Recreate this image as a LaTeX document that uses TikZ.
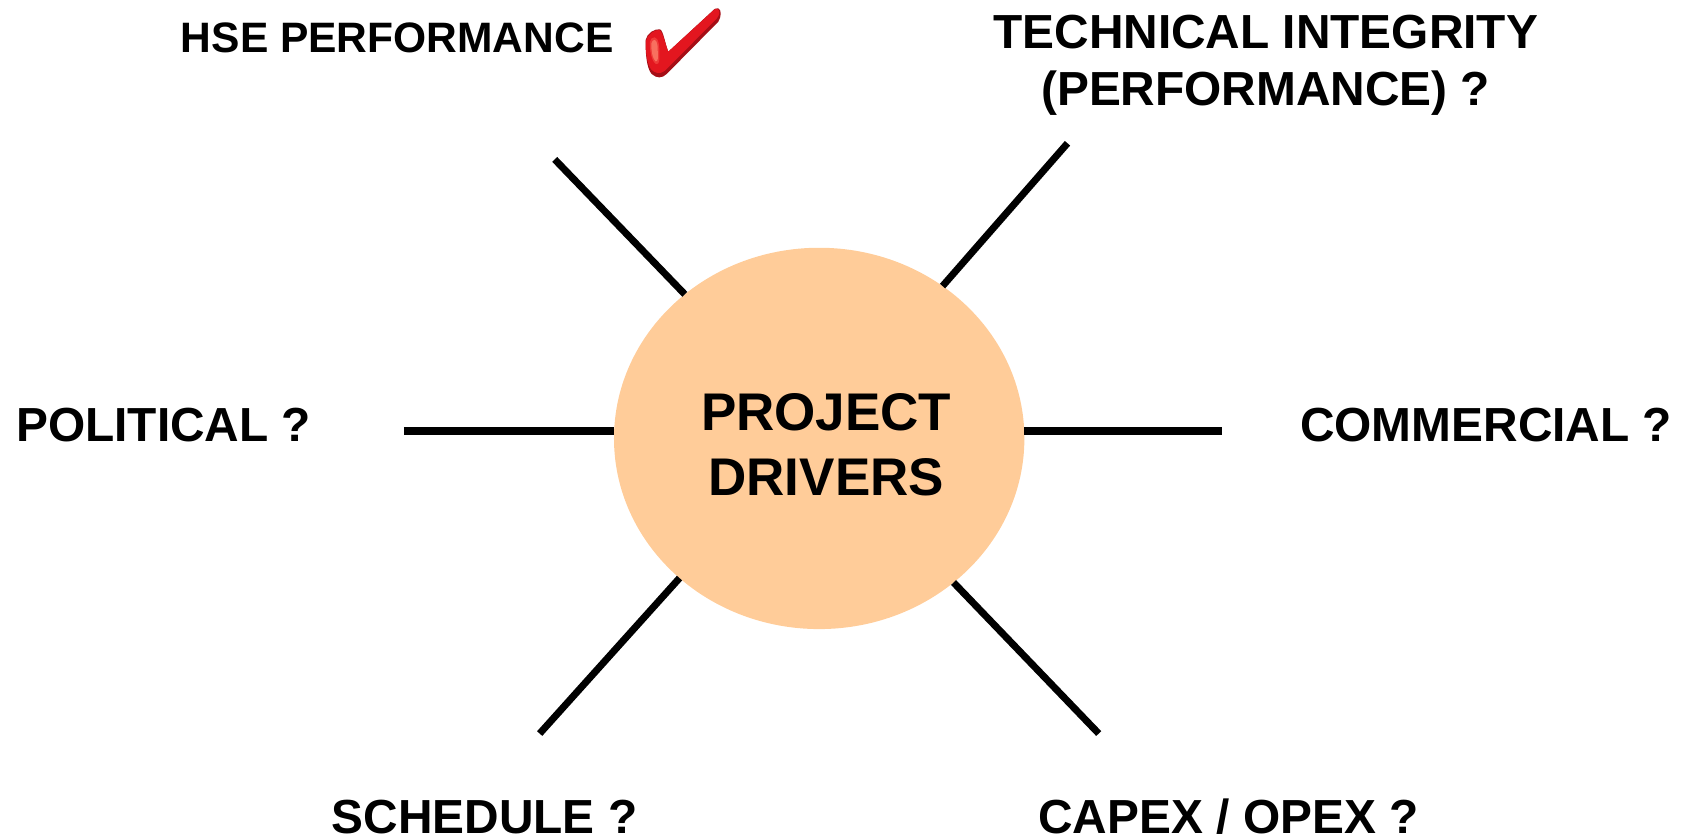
\documentclass[tikz,border=0pt]{standalone}
\usepackage{fontspec}
\setmainfont{Liberation Sans}
\usetikzlibrary{shapes.geometric}
\definecolor{hubfill}{HTML}{FFCC99}
\definecolor{tickred}{HTML}{E3161F}
\definecolor{tickdark}{HTML}{A50E16}
\definecolor{tickhi}{HTML}{F8705F}
\definecolor{tickmid}{HTML}{EE3A38}
\tikzset{
  hubnode/.style={ellipse,fill=hubfill,minimum width=381pt,minimum height=354pt,inner sep=0pt,outer sep=0pt},
  spoke/.style={line width=6.5pt,black,line cap=butt},
  hspoke/.style={line width=7.4pt,black,line cap=butt},
  lbl/.style={font=\bfseries\fontsize{44.4}{53.5}\selectfont,inner sep=0pt,outer sep=0pt,text=black},
  hselbl/.style={font=\bfseries\fontsize{39.5}{48}\selectfont,inner sep=0pt,outer sep=0pt,text=black},
  hublbl/.style={font=\bfseries\fontsize{49.2}{60}\selectfont,inner sep=0pt,outer sep=0pt,text=black,align=center}
}
\begin{document}
\begin{tikzpicture}[x=1pt,y=-1pt]
\useasboundingbox (0,0) rectangle (1568,779.8);
\node[hubnode] (hub) at (760.5,407) {};
\node[hublbl] (title) at (767,413) {PROJECT\\DRIVERS};
\coordinate (nwEnd) at (515,148);
\coordinate (neEnd) at (991,133);
\coordinate (eEnd) at (1134,400);
\coordinate (wEnd) at (375,400);
\coordinate (swEnd) at (501,681);
\coordinate (seEnd) at (1020,681);
\draw[spoke] (nwEnd) -- (hub.133.1);
\draw[spoke] (neEnd) -- (hub.51.0);
\draw[hspoke] (eEnd) -- (eEnd -| hub.east);
\draw[hspoke] (wEnd) -- (wEnd -| hub.west);
\draw[spoke] (swEnd) -- (hub.225.1);
\draw[spoke] (seEnd) -- (hub.-47.2);
\node[hselbl,anchor=base west] (hse) at (168,49) {HSE PERFORMANCE};
\node[lbl,align=center] (tech) at (1175,60.5) {TECHNICAL INTEGRITY\\(PERFORMANCE) ?};
\node[lbl,anchor=base west] (pol) at (15,410) {POLITICAL ?};
\node[lbl,anchor=base west] (com) at (1207,410) {COMMERCIAL ?};
\node[lbl,anchor=base west] (sch) at (308,773.5) {SCHEDULE ?};
\node[lbl,anchor=base west] (cap) at (964,773.5) {CAPEX / OPEX ?};
\begin{scope}[shift={(557,0)},scale=0.3095]
\fill[tickdark] (355,25) .. controls (365,30) and (364,50) .. (355,65)
  -- (200,222) .. controls (185,236) and (170,235) .. (155,222)
  .. controls (140,205) and (136,160) .. (137,120)
  .. controls (140,100) and (165,85) .. (180,88)
  .. controls (190,92) and (195,130) .. (205,155)
  -- (335,35) .. controls (342,27) and (350,22) .. (355,25) -- cycle;
\fill[tickred] (353,27) .. controls (361,32) and (359,45) .. (350,56)
  -- (195,212) .. controls (180,224) and (165,220) .. (153,208)
  .. controls (141,190) and (136,155) .. (138,122)
  .. controls (142,103) and (165,88) .. (178,90)
  .. controls (188,95) and (195,130) .. (205,155)
  -- (335,36) .. controls (342,29) and (349,24) .. (353,27) -- cycle;
\fill[tickmid] (155,115) .. controls (168,105) and (178,120) .. (178,150)
  .. controls (178,178) and (180,195) .. (168,192)
  .. controls (155,185) and (148,150) .. (150,125) -- cycle;
\fill[tickhi] (158,122) .. controls (167,114) and (174,128) .. (173,150)
  .. controls (175,172) and (174,186) .. (167,184)
  .. controls (158,178) and (153,150) .. (154,130) -- cycle;
\end{scope}
\end{tikzpicture}
\end{document}
